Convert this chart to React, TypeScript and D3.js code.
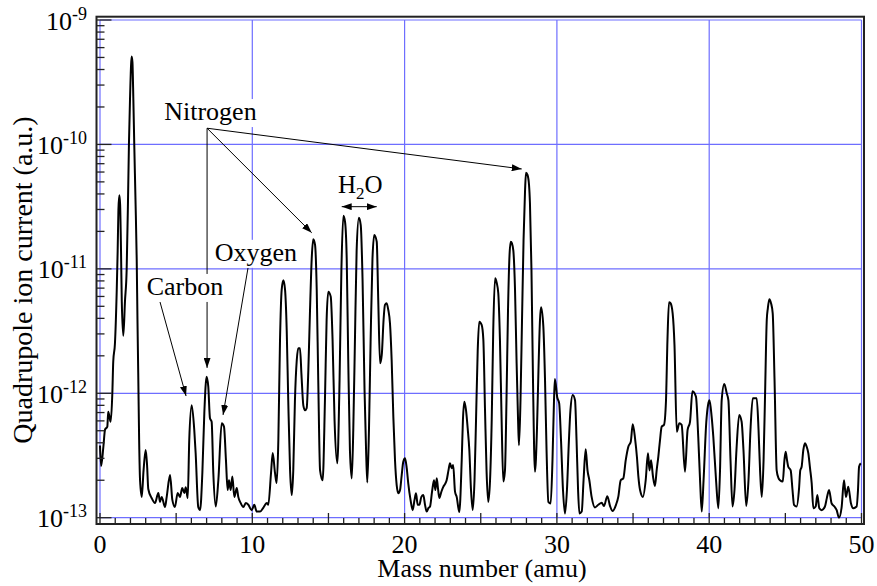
import React from "react";
import * as d3 from "d3";

// Mass number (amu) of each sample of the scan
const masses = [
  0.0, 0.07, 0.22, 0.33, 0.48, 0.54, 0.7, 0.81, 0.87, 0.98, 1.1, 1.16, 1.21, 1.27, 1.32, 1.38, 1.43, 1.53, 1.64, 1.75,
  1.84, 1.9, 1.97, 2.04, 2.08, 2.13, 2.19, 2.25, 2.33, 2.41, 2.46, 2.51, 2.57, 2.63, 2.74, 2.86, 3.0, 3.09, 3.17, 3.39,
  3.61, 3.83, 3.94, 4.05, 4.27, 4.38, 4.6, 4.75, 4.92, 5.1, 5.25, 5.4, 5.54, 5.63, 5.76, 5.86, 6.02, 6.19, 6.28, 6.45,
  6.57, 6.72, 6.85, 7.0, 7.11, 7.22, 7.33, 7.44, 7.6, 7.77, 7.99, 8.14, 8.27, 8.38, 8.47, 8.58, 8.69, 8.82, 8.98, 9.08,
  9.24, 9.41, 9.57, 9.74, 9.96, 10.13, 10.29, 10.51, 10.72, 10.95, 11.05, 11.23, 11.34, 11.49, 11.6, 11.71, 11.82, 11.93, 12.04, 12.15,
  12.26, 12.36, 12.48, 12.59, 12.69, 12.8, 12.92, 13.02, 13.13, 13.23, 13.35, 13.46, 13.57, 13.68, 13.79, 13.9, 14.0, 14.12, 14.23, 14.33,
  14.45, 14.62, 14.77, 14.88, 14.99, 15.15, 15.27, 15.4, 15.58, 15.73, 15.85, 15.98, 16.09, 16.2, 16.3, 16.41, 16.53, 16.63, 16.74, 16.85,
  17.0, 17.12, 17.24, 17.37, 17.47, 17.55, 17.66, 17.77, 17.89, 18.01, 18.17, 18.27, 18.39, 18.5, 18.62, 18.71, 18.82, 18.93, 19.04, 19.15,
  19.26, 19.37, 19.48, 19.59, 19.7, 19.81, 19.91, 20.03, 20.14, 20.24, 20.39, 20.53, 20.65, 20.75, 20.86, 20.97, 21.1, 21.23, 21.34, 21.45,
  21.57, 21.67, 21.8, 21.93, 22.02, 22.11, 22.19, 22.28, 22.41, 22.54, 22.65, 22.76, 22.88, 22.98, 23.09, 23.19, 23.31, 23.42, 23.59, 23.75,
  23.83, 23.92, 24.03, 24.14, 24.25, 24.36, 24.47, 24.59, 24.69, 24.8, 24.9, 25.06, 25.17, 25.28, 25.38, 25.49, 25.61, 25.72, 25.82, 25.94,
  26.05, 26.15, 26.26, 26.37, 26.48, 26.59, 26.69, 26.79, 26.89, 26.97, 27.05, 27.14, 27.25, 27.35, 27.45, 27.51, 27.61, 27.71, 27.81, 27.91,
  27.97, 28.07, 28.17, 28.23, 28.33, 28.43, 28.56, 28.69, 28.79, 28.89, 28.96, 29.11, 29.22, 29.32, 29.44, 29.59, 29.71, 29.81, 29.87, 30.02,
  30.15, 30.27, 30.4, 30.53, 30.66, 30.79, 30.89, 31.04, 31.19, 31.29, 31.39, 31.48, 31.63, 31.75, 31.89, 32.01, 32.13, 32.28, 32.5, 32.72,
  32.94, 33.09, 33.31, 33.49, 33.66, 33.88, 34.03, 34.19, 34.36, 34.52, 34.69, 34.85, 34.98, 35.13, 35.26, 35.35, 35.46, 35.65, 35.83, 35.98,
  36.08, 36.18, 36.31, 36.44, 36.55, 36.66, 36.77, 36.88, 37.03, 37.16, 37.26, 37.36, 37.46, 37.6, 37.72, 37.87, 38.04, 38.19, 38.41, 38.58,
  38.74, 38.9, 39.13, 39.28, 39.4, 39.51, 39.63, 39.81, 39.92, 40.02, 40.16, 40.27, 40.45, 40.6, 40.71, 40.82, 40.99, 41.15, 41.26, 41.4,
  41.53, 41.66, 41.79, 41.97, 42.13, 42.25, 42.43, 42.58, 42.71, 42.86, 43.12, 43.24, 43.34, 43.45, 43.57, 43.66, 43.78, 43.85, 43.95, 44.06,
  44.17, 44.29, 44.43, 44.55, 44.65, 44.83, 44.94, 45.02, 45.11, 45.19, 45.35, 45.47, 45.57, 45.74, 45.9, 45.98, 46.07, 46.18, 46.29, 46.4,
  46.51, 46.62, 46.73, 46.84, 46.99, 47.1, 47.23, 47.39, 47.6, 47.72, 47.87, 48.04, 48.22, 48.37, 48.52, 48.7, 48.85, 48.98, 49.13, 49.31,
  49.46, 49.68, 49.77, 49.84, 49.95,
];

// Quadrupole ion current (a.u.) for each mass above
const ionCurrent = [
  3.8e-13, 2.6e-13, 3.7e-13, 5.1e-13, 5.4e-13, 7.1e-13, 5.9e-13, 1.0e-12, 1.8e-12, 2.5e-12, 6.8e-12, 1.4e-11, 3.0e-11, 3.9e-11, 3.3e-11, 1.4e-11, 5.5e-12, 2.9e-12, 5.5e-12, 9.8e-12,
  3.6e-11, 1.0e-10, 2.3e-10, 4.35e-10, 5.1e-10, 4.6e-10, 2.3e-10, 1.0e-10, 3.6e-11, 1.2e-11, 3.9e-12, 1.46e-12, 4.2e-13, 2.0e-13, 1.47e-13, 2.4e-13, 3.5e-13, 2.65e-13, 1.7e-13, 1.44e-13,
  1.31e-13, 1.58e-13, 1.34e-13, 1.47e-13, 1.22e-13, 1.47e-13, 2.2e-13, 1.39e-13, 1.22e-13, 1.58e-13, 1.47e-13, 1.73e-13, 1.58e-13, 1.76e-13, 1.44e-13, 4.2e-13, 8.0e-13, 5.07e-13, 3.31e-13, 1.22e-13,
  1.15e-13, 2.29e-13, 6.94e-13, 1.36e-12, 1.13e-12, 6.3e-13, 5.9e-13, 2.29e-13, 1.23e-13, 2.0e-13, 5.74e-13, 5.4e-13, 2.9e-13, 1.67e-13, 2.0e-13, 1.67e-13, 2.14e-13, 1.47e-13, 1.73e-13, 1.47e-13,
  1.31e-13, 1.22e-13, 1.31e-13, 1.27e-13, 1.15e-13, 1.27e-13, 1.12e-13, 1.12e-13, 1.2e-13, 1.31e-13, 1.27e-13, 2.29e-13, 3.31e-13, 2.29e-13, 1.9e-13, 4.2e-13, 2.7e-12, 6.8e-12, 8.1e-12, 6.8e-12,
  3.2e-12, 8.8e-13, 2.4e-13, 1.52e-13, 2.4e-13, 8.8e-13, 1.85e-12, 2.3e-12, 2.3e-12, 1.4e-12, 8.0e-13, 7.3e-13, 7.6e-13, 1.54e-12, 4.67e-12, 1.2e-11, 1.73e-11, 1.56e-11, 6.8e-12, 1.28e-12,
  2.4e-13, 2.0e-13, 8.8e-13, 3.9e-12, 6.55e-12, 5.98e-12, 2.7e-12, 6.1e-13, 2.74e-13, 1.28e-12, 9.8e-12, 2.67e-11, 2.38e-11, 1.2e-11, 1.85e-12, 3.5e-13, 2.07e-13, 5.07e-13, 2.7e-12, 1.4e-11,
  2.57e-11, 2.25e-11, 8.1e-12, 1.06e-12, 3.5e-13, 1.92e-13, 5.07e-13, 2.7e-12, 1.2e-11, 1.87e-11, 1.65e-11, 5.6e-12, 1.74e-12, 2.03e-12, 3.9e-12, 5.13e-12, 5.29e-12, 4.67e-12, 3.65e-12, 1.85e-12,
  6.49e-13, 2.9e-13, 1.83e-13, 1.57e-13, 1.67e-13, 2.2e-13, 2.8e-13, 3.0e-13, 2.5e-13, 1.89e-13, 1.39e-13, 1.15e-13, 1.39e-13, 1.57e-13, 1.27e-13, 1.27e-13, 1.47e-13, 1.52e-13, 1.27e-13, 1.12e-13,
  1.2e-13, 1.23e-13, 1.61e-13, 2.0e-13, 1.67e-13, 2.08e-13, 1.73e-13, 1.44e-13, 1.61e-13, 1.77e-13, 1.86e-13, 2.0e-13, 2.4e-13, 2.74e-13, 2.5e-13, 2.65e-13, 1.62e-13, 1.47e-13, 1.11e-13, 2.9e-13,
  6.1e-13, 8.55e-13, 7.34e-13, 5.26e-13, 3.5e-13, 1.67e-13, 1.15e-13, 2.0e-13, 6.1e-13, 2.2e-12, 3.76e-12, 3.54e-12, 2.7e-12, 7.34e-13, 2.4e-13, 1.34e-13, 2.0e-13, 6.1e-13, 3.23e-12, 8.4e-12,
  7.7e-12, 6.4e-12, 2.7e-12, 6.1e-13, 1.95e-13, 2.4e-13, 8.8e-13, 4.67e-12, 1.3e-11, 1.65e-11, 1.6e-11, 1.4e-11, 6.8e-12, 1.85e-12, 6.1e-13, 3.83e-13, 8.8e-13, 3.9e-12, 1.7e-11, 4.32e-11,
  5.93e-11, 5.7e-11, 4.72e-11, 3.38e-11, 9.8e-12, 1.28e-12, 2.34e-13, 5.07e-13, 1.54e-12, 3.9e-12, 4.91e-12, 3.43e-12, 1.28e-12, 3.5e-13, 1.34e-13, 1.3e-13, 2.9e-13, 8.8e-13, 1.3e-12, 9.3e-13,
  8.3e-13, 4.2e-13, 1.67e-13, 1.08e-13, 1.67e-13, 4.2e-13, 7.34e-13, 9.7e-13, 8.8e-13, 4.2e-13, 1.67e-13, 1.08e-13, 1.12e-13, 2.0e-13, 3.55e-13, 2.4e-13, 2.0e-13, 1.47e-13, 1.21e-13, 1.27e-13,
  1.32e-13, 1.24e-13, 1.49e-13, 1.24e-13, 1.13e-13, 1.27e-13, 1.47e-13, 2.0e-13, 2.07e-13, 2.9e-13, 3.72e-13, 4.08e-13, 5.63e-13, 4.35e-13, 3.02e-13, 2.14e-13, 1.67e-13, 1.47e-13, 2.0e-13, 3.29e-13,
  2.4e-13, 2.9e-13, 2.14e-13, 1.8e-13, 2.4e-13, 3.1e-13, 4.2e-13, 5.4e-13, 5.57e-13, 8.55e-13, 2.7e-12, 5.4e-12, 5.3e-12, 4.39e-12, 2.45e-12, 4.9e-13, 5.74e-13, 5.57e-13, 2.34e-13, 5.07e-13,
  5.9e-13, 1.04e-12, 9.4e-13, 4.47e-13, 2.0e-13, 1.12e-13, 2.0e-13, 5.9e-13, 8.0e-13, 8.8e-13, 6.49e-13, 4.47e-13, 2.0e-13, 1.19e-13, 2.4e-13, 8.8e-13, 1.19e-12, 1.0e-12, 8.8e-13, 2.9e-13,
  1.23e-13, 1.67e-13, 3.5e-13, 6.7e-13, 5.9e-13, 3.5e-13, 1.24e-13, 2.0e-13, 5.07e-13, 9.1e-13, 9.1e-13, 5.07e-13, 2.4e-13, 1.47e-13, 2.9e-13, 8.8e-13, 3.9e-12, 4.82e-12, 5.7e-12, 5.3e-12,
  4.39e-12, 1.28e-12, 2.4e-13, 2.08e-13, 2.0e-13, 1.95e-13, 2.9e-13, 3.39e-13, 2.9e-13, 2.57e-13, 2.4e-13, 1.67e-13, 1.27e-13, 1.23e-13, 1.72e-13, 2.4e-13, 2.57e-13, 3.5e-13, 3.96e-13, 3.72e-13,
  3.29e-13, 2.5e-13, 1.89e-13, 1.19e-13, 1.23e-13, 1.52e-13, 1.19e-13, 1.15e-13, 1.23e-13, 1.43e-13, 1.67e-13, 1.3e-13, 1.23e-13, 1.15e-13, 1.0e-13, 1.23e-13, 2.0e-13, 1.47e-13, 1.77e-13, 1.3e-13,
  1.19e-13, 1.23e-13, 1.67e-13, 2.57e-13, 2.74e-13,
];

const xTickValues = [0, 10, 20, 30, 40, 50];
const xTickLabels = ["0", "10", "20", "30", "40", "50"];
const yDecades = [1e-13, 1e-12, 1e-11, 1e-10, 1e-9];
const yExponents = ["-13", "-12", "-11", "-10", "-9"];

// annotations (data coordinates)
const labelNames = ["Nitrogen", "Carbon", "Oxygen"];
const labelMass = [7.25, 5.58, 10.24];
const labelValue = [1.57e-10, 6.17e-12, 1.16e-11];
const arrowFromMass = [7.03, 7.03, 7.03, 3.94, 9.72];
const arrowFromValue = [1.35e-10, 1.35e-10, 1.35e-10, 5.42e-12, 1.02e-11];
const arrowToMass = [7.03, 13.9, 27.69, 5.65, 8.08];
const arrowToValue = [1.6e-12, 1.95e-11, 6.35e-11, 9.5e-13, 6.7e-13];
const waterMass = [15.87, 18.17];
const waterValue = 3.16e-11;
const waterLabelMass = 15.63;
const waterLabelValue = 4.07e-11;

const FONT = "Liberation Serif, DejaVu Serif, serif";
const GRID = "#6e6eff";
const tf = { fontFamily: FONT };

export default function App() {
  const x = d3.scaleLinear().domain([0, 50]).range([100, 861.5]);
  const y = d3.scaleLog().domain([1e-13, 1e-9]).range([517.7, 20]);

  const frameL = x(0) - 3.5;
  const frameR = x(50) + 2.5;
  const frameT = y(1e-9) - 3.3;
  const frameB = y(1e-13) + 6.3;

  const line = d3
    .line<number>()
    .x((_, i) => x(masses[i]))
    .y((v) => y(v))
    .curve(d3.curveMonotoneX);

  const xMinor = d3.range(0, 51, 1);
  const yMinor = y.ticks(40).filter((t) => !yDecades.some((d) => Math.abs(d - t) / d < 1e-6));

  const labelBox = [
    { w: 98, h: 28 },
    { w: 80, h: 28 },
    { w: 86, h: 28 },
  ];

  return (
    <svg
      width={877}
      height={586}
      viewBox="0 0 877 586"
      style={{ position: "absolute", left: 0, top: 0, display: "block", background: "#fff" }}
    >
      <defs>
        <marker id="ah" viewBox="0 0 10 7" refX="10" refY="3.5" markerWidth="10" markerHeight="7" markerUnits="userSpaceOnUse" orient="auto-start-reverse">
          <path d="M0,0 L10,3.5 L0,7 Z" fill="#000" />
        </marker>
      </defs>
      <rect x={0} y={0} width={877} height={586} fill="#fff" />

      {/* grid */}
      {xTickValues.map((t) => (
        <line key={"gx" + t} x1={x(t)} x2={x(t)} y1={y(1e-9)} y2={y(1e-13)} stroke={GRID} strokeWidth={1.2} />
      ))}
      {yDecades.map((d) => (
        <line key={"gy" + d} x1={x(0)} x2={x(50)} y1={y(d)} y2={y(d)} stroke={GRID} strokeWidth={1.2} />
      ))}

      {/* spectrum */}
      <path d={line(ionCurrent) || ""} fill="none" stroke="#000" strokeWidth={2} strokeLinejoin="round" />

      {/* arrows */}
      {arrowFromMass.map((m, i) => (
        <line
          key={"ar" + i}
          x1={x(m)}
          y1={y(arrowFromValue[i])}
          x2={x(arrowToMass[i])}
          y2={y(arrowToValue[i])}
          stroke="#000"
          strokeWidth={1}
          markerEnd="url(#ah)"
        />
      ))}
      <line
        x1={x(waterMass[0])}
        x2={x(waterMass[1])}
        y1={y(waterValue)}
        y2={y(waterValue)}
        stroke="#000"
        strokeWidth={1}
        markerStart="url(#ah)"
        markerEnd="url(#ah)"
      />

      {/* labels */}
      {labelNames.map((n, i) => (
        <g key={n}>
          <rect
            x={x(labelMass[i]) - labelBox[i].w / 2}
            y={y(labelValue[i]) - 21}
            width={labelBox[i].w}
            height={labelBox[i].h}
            fill="#fff"
          />
          <text x={x(labelMass[i])} y={y(labelValue[i])} textAnchor="middle" fontSize={26} fill="#000" style={tf}>
            {n}
          </text>
        </g>
      ))}
      <text x={x(waterLabelMass)} y={y(waterLabelValue)} fontSize={25} fill="#000" style={tf}>
        H<tspan fontSize={17} dy={6}>2</tspan>
        <tspan dy={-6}>O</tspan>
      </text>

      {/* frame */}
      <rect x={frameL} y={frameT} width={frameR - frameL} height={frameB - frameT} fill="none" stroke="#222" strokeWidth={2} />

      {/* x ticks */}
      {xMinor.map((t) => (
        <line
          key={"xt" + t}
          x1={x(t)}
          x2={x(t)}
          y1={frameB}
          y2={frameB - (t % 5 === 0 ? 11 : 6)}
          stroke="#222"
          strokeWidth={1.3}
        />
      ))}
      {xTickValues.map((t, i) => (
        <text key={"xl" + t} x={x(t)} y={553} textAnchor="middle" fontSize={26} fill="#000" style={tf}>
          {xTickLabels[i]}
        </text>
      ))}

      {/* y ticks */}
      {yDecades.map((d) => (
        <line key={"yt" + d} x1={frameL} x2={frameL + 15} y1={y(d)} y2={y(d)} stroke="#222" strokeWidth={1.3} />
      ))}
      {yMinor.map((d) => (
        <line key={"ym" + d} x1={frameL} x2={frameL + 8} y1={y(d)} y2={y(d)} stroke="#222" strokeWidth={1.3} />
      ))}
      {yDecades.map((d, i) => (
        <text key={"yl" + d} x={87} y={y(d) + 9.5} textAnchor="end" fill="#000" fontSize={26} style={tf}>
          10
          <tspan fontSize={18} dy={-10}>
            {yExponents[i]}
          </tspan>
        </text>
      ))}

      {/* axis titles */}
      <text x={482} y={577} textAnchor="middle" fontSize={26} fill="#000" style={tf}>
        Mass number (amu)
      </text>
      <text transform={`translate(32,280) rotate(-90)`} textAnchor="middle" fontSize={28} fill="#000" style={tf}>
        Quadrupole ion current (a.u.)
      </text>
    </svg>
  );
}
